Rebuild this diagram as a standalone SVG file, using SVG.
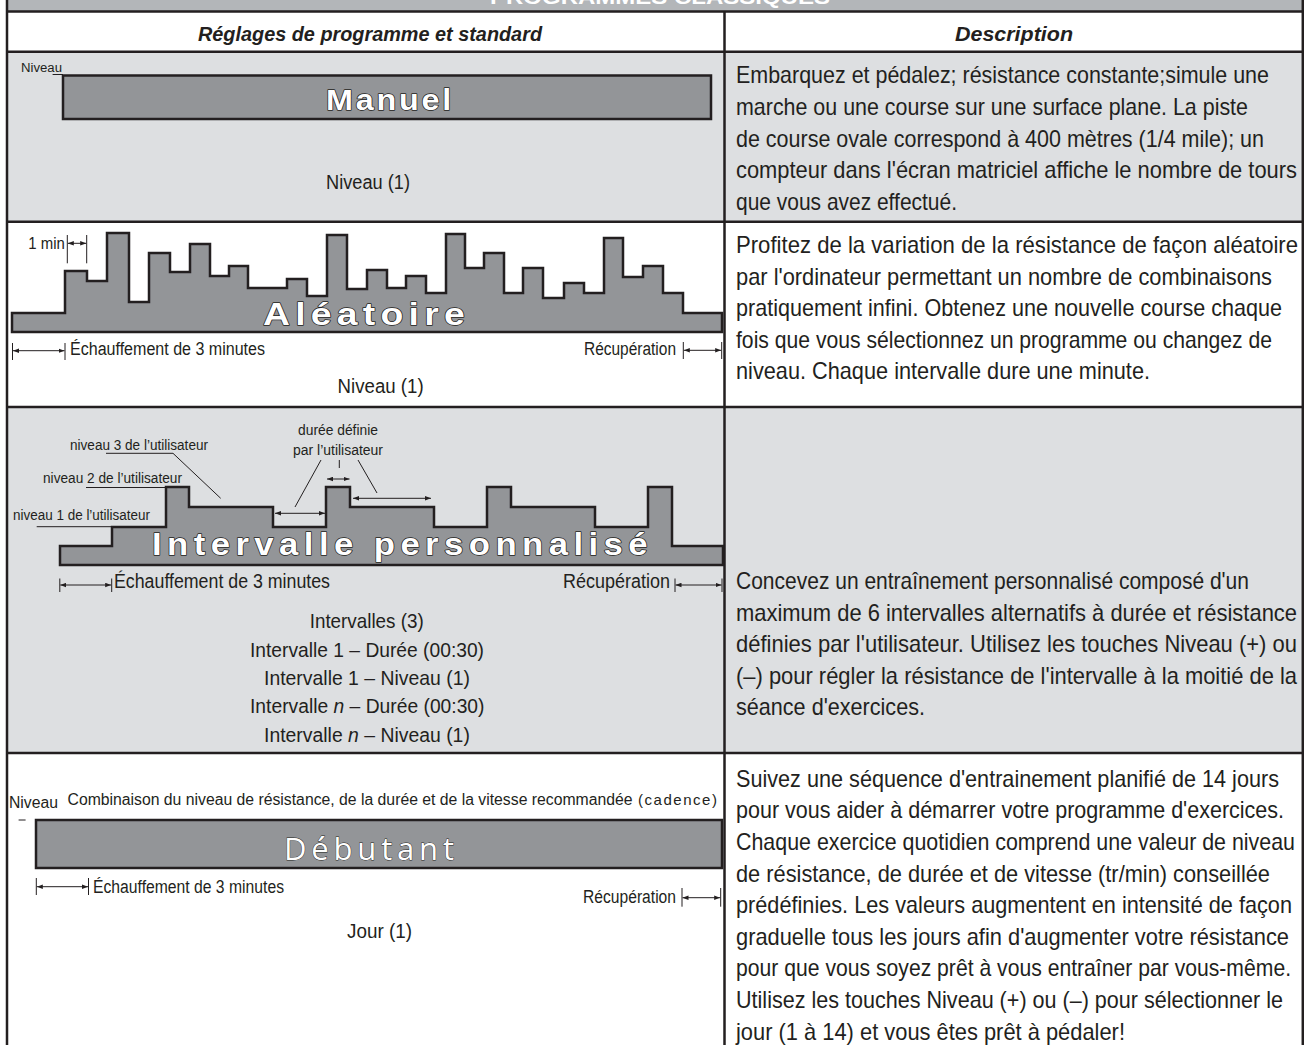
<svg xmlns="http://www.w3.org/2000/svg" width="1304" height="1045" viewBox="0 0 1304 1045">
<defs>
<style>
.t{font-family:'Liberation Sans',Arial,sans-serif;fill:#231f20}
.d{font-size:23px}
.h{font-size:21px;font-weight:bold;font-style:italic}
.m{font-size:20px}
.s{font-size:14px}
.e{font-size:18px}
.big{font-family:'Liberation Sans',Arial,sans-serif;font-weight:bold;fill:#fff;stroke:#231f20;stroke-width:1.4;paint-order:stroke;stroke-linejoin:round}
.grid{stroke:#231f20;stroke-width:2.5;fill:none}
.prof{fill:#939598;stroke:#231f20;stroke-width:2.5}
.thin{stroke:#231f20;stroke-width:1;fill:none}
.arr{stroke:#231f20;stroke-width:1;fill:none;marker-start:url(#ah);marker-end:url(#ah)}
</style>
<marker id="ah" viewBox="0 0 8 6" refX="8" refY="3" markerWidth="6" markerHeight="5" orient="auto-start-reverse" markerUnits="userSpaceOnUse"><path d="M0,0 L8,3 L0,6 Z" fill="#231f20"/></marker>
</defs>
<g id="background">
<rect x="0" y="0" width="1304" height="1045" fill="#fff"/>
<rect x="7" y="0" width="1297" height="11.5" fill="#b3b6b9"/>
<rect x="7" y="51.7" width="1297" height="170" fill="#dddfe1"/>
<rect x="7" y="407" width="1297" height="346" fill="#dddfe1"/>
</g>
<g id="title">
<text x="660" y="3.5" text-anchor="middle" font-family="'Liberation Sans',Arial,sans-serif" font-size="20" font-weight="bold" fill="#fff" textLength="340" lengthAdjust="spacingAndGlyphs">PROGRAMMES CLASSIQUES</text>
</g>
<g id="grid">
<path class="grid" d="M7,0 V1045 M1302.8,0 V1045 M724.5,11.5 V1045 M7,11.5 H1304 M7,51.7 H1304 M7,221.7 H1304 M7,407 H1304 M7,753 H1304"/>
</g>
<g id="header">
<text class="t h" x="370" y="40.7" text-anchor="middle" textLength="344" lengthAdjust="spacingAndGlyphs">Réglages de programme et standard</text>
<text class="t h" x="1014" y="40.7" text-anchor="middle" textLength="118" lengthAdjust="spacingAndGlyphs">Description</text>
</g>
<g id="row-manuel">
<text class="t" x="21" y="72" font-size="12" textLength="41" lengthAdjust="spacingAndGlyphs">Niveau</text>
<rect class="prof" x="63" y="75.5" width="648" height="43.5"/>
<text class="big" x="326" y="110" font-size="29" letter-spacing="2.5" textLength="128" lengthAdjust="spacingAndGlyphs">Manuel</text>
<text class="t m" x="368" y="189" text-anchor="middle" textLength="84" lengthAdjust="spacingAndGlyphs">Niveau (1)</text>
<text class="t d" transform="matrix(0.92,0,0,1,736,83.3)" textLength="579.3" lengthAdjust="spacingAndGlyphs">Embarquez et pédalez; résistance constante;simule une</text>
<text class="t d" transform="matrix(0.92,0,0,1,736,115)" textLength="556.5" lengthAdjust="spacingAndGlyphs">marche ou une course sur une surface plane. La piste</text>
<text class="t d" transform="matrix(0.92,0,0,1,736,146.6)" textLength="573.9" lengthAdjust="spacingAndGlyphs">de course ovale correspond à 400 mètres (1/4 mile); un</text>
<text class="t d" transform="matrix(0.92,0,0,1,736,178.2)" textLength="609.8" lengthAdjust="spacingAndGlyphs">compteur dans l'écran matriciel affiche le nombre de tours</text>
<text class="t d" transform="matrix(0.92,0,0,1,736,209.8)" textLength="240.2" lengthAdjust="spacingAndGlyphs">que vous avez effectué.</text>
</g>
<g id="row-aleatoire">
<text class="t" x="28.3" y="249.3" font-size="16" textLength="36.5" lengthAdjust="spacingAndGlyphs">1 min</text>
<path class="prof" d="M12,332 V313 H65 V271 H87 V281 H107 V233 H129 V302 H149 V253 H170 V272 H190 V244 H210 V276 H229 V266 H248 V288 H287 V279 H307 V296 H327 V235 H347 V289 H367 V270 H387 V288 H406 V276 H426 V293 H446 V234 H465 V268 H484 V253 H504 V293 H523 V268 H543 V298 H564 V283 H584 V293 H604 V238 H623 V277 H643 V266 H663 V293 H683 V313 H722 V332 Z"/>
<text class="big" x="263" y="325" font-size="32" letter-spacing="4.5" textLength="207" lengthAdjust="spacingAndGlyphs">Aléatoire</text>
<text class="t e" x="70" y="355" textLength="195" lengthAdjust="spacingAndGlyphs">Échauffement de 3 minutes</text>
<text class="t e" x="584" y="355" textLength="92" lengthAdjust="spacingAndGlyphs">Récupération</text>
<text class="t m" x="380.6" y="392.7" text-anchor="middle" textLength="86" lengthAdjust="spacingAndGlyphs">Niveau (1)</text>
<text class="t d" transform="matrix(0.92,0,0,1,736,253)" textLength="610.9" lengthAdjust="spacingAndGlyphs">Profitez de la variation de la résistance de façon aléatoire</text>
<text class="t d" transform="matrix(0.92,0,0,1,736,284.6)" textLength="582.6" lengthAdjust="spacingAndGlyphs">par l'ordinateur permettant un nombre de combinaisons</text>
<text class="t d" transform="matrix(0.92,0,0,1,736,316.2)" textLength="593.5" lengthAdjust="spacingAndGlyphs">pratiquement infini. Obtenez une nouvelle course chaque</text>
<text class="t d" transform="matrix(0.92,0,0,1,736,347.8)" textLength="582.6" lengthAdjust="spacingAndGlyphs">fois que vous sélectionnez un programme ou changez de</text>
<text class="t d" transform="matrix(0.92,0,0,1,736,379.4)" textLength="450" lengthAdjust="spacingAndGlyphs">niveau. Chaque intervalle dure une minute.</text>
</g>
<g id="row-intervalle">
<text class="t s" x="70" y="450" textLength="138" lengthAdjust="spacingAndGlyphs">niveau 3 de l’utilisateur</text>
<text class="t s" x="43" y="483.3" textLength="139" lengthAdjust="spacingAndGlyphs">niveau 2 de l’utilisateur</text>
<text class="t s" x="13" y="520" textLength="137" lengthAdjust="spacingAndGlyphs">niveau 1 de l’utilisateur</text>
<text class="t s" x="338" y="435" text-anchor="middle" textLength="80" lengthAdjust="spacingAndGlyphs">durée définie</text>
<text class="t s" x="338" y="455" text-anchor="middle" textLength="90" lengthAdjust="spacingAndGlyphs">par l’utilisateur</text>
<path class="prof" d="M60,565 V546 H112 V527 H166 V487 H189 V507 H273 V527 H326 V487 H350 V507 H434 V527 H487 V487 H511 V507 H595 V527 H648 V487 H672 V546 H723 V565 Z"/>
<text class="big" x="152" y="555" font-size="32" letter-spacing="5" textLength="501" lengthAdjust="spacingAndGlyphs">Intervalle personnalisé</text>
<text class="t m" x="114" y="588" textLength="216" lengthAdjust="spacingAndGlyphs">Échauffement de 3 minutes</text>
<text class="t m" x="563" y="588" textLength="107" lengthAdjust="spacingAndGlyphs">Récupération</text>
<text class="t" x="366.7" y="628.3" font-size="21" text-anchor="middle" textLength="114" lengthAdjust="spacingAndGlyphs">Intervalles (3)</text>
<text class="t" x="367" y="656.7" font-size="21" text-anchor="middle" textLength="234" lengthAdjust="spacingAndGlyphs">Intervalle 1 – Durée (00:30)</text>
<text class="t" x="367" y="685" font-size="21" text-anchor="middle" textLength="206" lengthAdjust="spacingAndGlyphs">Intervalle 1 – Niveau (1)</text>
<text class="t" font-size="21" transform="matrix(0.918,0,0,1,250,713.3)">Intervalle <tspan font-style="italic">n</tspan> – Durée (00:30)</text>
<text class="t" font-size="21" transform="matrix(0.924,0,0,1,264,741.7)">Intervalle <tspan font-style="italic">n</tspan> – Niveau (1)</text>
<text class="t d" transform="matrix(0.92,0,0,1,736,589)" textLength="557.6" lengthAdjust="spacingAndGlyphs">Concevez un entraînement personnalisé composé d'un</text>
<text class="t d" transform="matrix(0.92,0,0,1,736,620.6)" textLength="609.8" lengthAdjust="spacingAndGlyphs">maximum de 6 intervalles alternatifs à durée et résistance</text>
<text class="t d" transform="matrix(0.92,0,0,1,736,652.2)" textLength="609.8" lengthAdjust="spacingAndGlyphs">définies par l'utilisateur. Utilisez les touches Niveau (+) ou</text>
<text class="t d" transform="matrix(0.92,0,0,1,736,683.8)" textLength="609.8" lengthAdjust="spacingAndGlyphs">(–) pour régler la résistance de l'intervalle à la moitié de la</text>
<text class="t d" transform="matrix(0.92,0,0,1,736,715.4)" textLength="205.4" lengthAdjust="spacingAndGlyphs">séance d'exercices.</text>
</g>
<g id="row-debutant">
<text class="t" x="9" y="808" font-size="16" textLength="49" lengthAdjust="spacingAndGlyphs">Niveau</text>
<text class="t" x="67.5" y="805" font-size="16" textLength="565" lengthAdjust="spacingAndGlyphs">Combinaison du niveau de résistance, de la durée et de la vitesse recommandée</text>
<text class="t" x="638" y="805" font-size="15" textLength="79" lengthAdjust="spacing">(cadence)</text>
<rect class="prof" x="36" y="820" width="686" height="48"/>
<text x="284" y="860" font-family="'Open Sans','Liberation Sans',sans-serif" font-size="31" fill="#fff" stroke="#231f20" stroke-width="0.8" paint-order="stroke" textLength="170" lengthAdjust="spacing">Débutant</text>
<text class="t e" x="93" y="893" textLength="191" lengthAdjust="spacingAndGlyphs">Échauffement de 3 minutes</text>
<text class="t e" x="583" y="903" textLength="93" lengthAdjust="spacingAndGlyphs">Récupération</text>
<text class="t m" x="379.6" y="938" text-anchor="middle" textLength="65" lengthAdjust="spacingAndGlyphs">Jour (1)</text>
<text class="t d" transform="matrix(0.92,0,0,1,736,786.7)" textLength="590.2" lengthAdjust="spacingAndGlyphs">Suivez une séquence d'entrainement planifié de 14 jours</text>
<text class="t d" transform="matrix(0.92,0,0,1,736,818.3)" textLength="595.7" lengthAdjust="spacingAndGlyphs">pour vous aider à démarrer votre programme d'exercices.</text>
<text class="t d" transform="matrix(0.92,0,0,1,736,849.9)" textLength="607.6" lengthAdjust="spacingAndGlyphs">Chaque exercice quotidien comprend une valeur de niveau</text>
<text class="t d" transform="matrix(0.92,0,0,1,736,881.5)" textLength="580.4" lengthAdjust="spacingAndGlyphs">de résistance, de durée et de vitesse (tr/min) conseillée</text>
<text class="t d" transform="matrix(0.92,0,0,1,736,913.1)" textLength="604.3" lengthAdjust="spacingAndGlyphs">prédéfinies. Les valeurs augmentent en intensité de façon</text>
<text class="t d" transform="matrix(0.92,0,0,1,736,944.7)" textLength="601.1" lengthAdjust="spacingAndGlyphs">graduelle tous les jours afin d'augmenter votre résistance</text>
<text class="t d" transform="matrix(0.92,0,0,1,736,976.3)" textLength="603.3" lengthAdjust="spacingAndGlyphs">pour que vous soyez prêt à vous entraîner par vous-même.</text>
<text class="t d" transform="matrix(0.92,0,0,1,736,1007.9)" textLength="594.6" lengthAdjust="spacingAndGlyphs">Utilisez les touches Niveau (+) ou (–) pour sélectionner le</text>
<text class="t d" transform="matrix(0.92,0,0,1,736,1039.5)" textLength="422.8" lengthAdjust="spacingAndGlyphs">jour (1 à 14) et vous êtes prêt à pédaler!</text>
</g>
<g id="connectors">
<line class="thin" x1="52.6" y1="74.5" x2="63" y2="74.5"/>
<path class="thin" d="M67.3,235 V263.3 M86.7,235 V263.3"/>
<line class="arr" x1="67.8" y1="243.3" x2="86.2" y2="243.3"/>
<path class="thin" d="M12.5,343 V360 M65,343 V360 M683.3,342 V359 M721.7,342 V359"/>
<line class="arr" x1="13" y1="350.7" x2="64.5" y2="350.7"/>
<line class="arr" x1="683.8" y1="350.3" x2="721.2" y2="350.3"/>
<path class="thin" d="M106,453.3 H173 L220.7,498.3 M86,487.5 H166 M36.7,526.7 H112"/>
<path class="thin" d="M321,460 L295,507 M339.3,460 V468 M358,460 L377,493"/>
<line class="arr" x1="275" y1="513.3" x2="325" y2="513.3"/>
<line class="arr" x1="327" y1="479" x2="349.5" y2="479"/>
<line class="arr" x1="353" y1="498.3" x2="431" y2="498.3"/>
<path class="thin" d="M59.8,578.5 V592 M111.7,578.5 V592 M675,578.5 V592 M722,578.5 V592"/>
<line class="arr" x1="60.3" y1="585" x2="111.2" y2="585"/>
<line class="arr" x1="675.5" y1="585" x2="721.5" y2="585"/>
<line class="thin" x1="18.6" y1="820" x2="25.6" y2="820"/>
<path class="thin" d="M36.3,878 V895 M88.5,878 V895 M682,888 V906.7 M720.7,888 V906.7"/>
<line class="arr" x1="36.8" y1="886.7" x2="88" y2="886.7"/>
<line class="arr" x1="682.5" y1="897.7" x2="720.2" y2="897.7"/>
</g>
</svg>
